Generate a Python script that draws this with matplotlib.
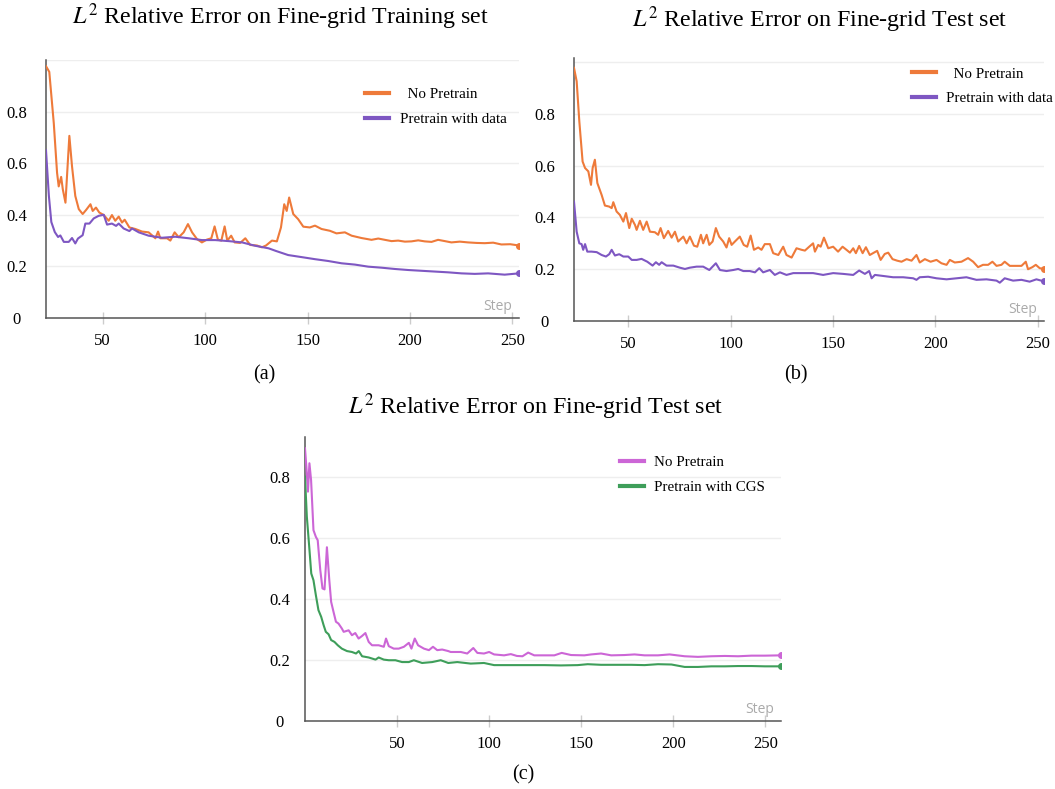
import matplotlib
matplotlib.use("Agg")
import matplotlib.pyplot as plt

plt.rcParams['font.family'] = ['Liberation Serif', 'DejaVu Serif']
plt.rcParams['mathtext.fontset'] = 'stix'

# ---------------- data ----------------

# (a) fine-grid training set
a_np_steps = [22.3, 23.9, 26.1, 27.7, 28.5, 29.7, 30.5, 31.8, 33.7, 35.0, 36.6, 38.3, 40.2, 41.9,
              44.0, 45.1, 46.7, 48.3, 50.5, 52.9, 54.5, 56.1, 57.8, 59.4, 60.7, 63.0, 65.9, 69.2,
              72.4, 75.7, 77.0, 78.1, 81.4, 83.0, 85.1, 87.1, 89.5, 91.6, 93.6, 96.0, 98.4, 100.9,
              103.0, 104.6, 106.2, 107.9, 109.5, 110.8, 112.7, 114.4, 117.1, 119.6, 122.0, 125.3,
              127.7, 129.7, 132.6, 135.0, 137.0, 138.6, 139.8, 141.0, 143.0, 145.4, 147.9, 151.1,
              153.6, 156.8, 160.9, 164.1, 168.2, 171.5, 176.3, 181.2, 184.5, 187.7, 191.0, 194.2,
              197.5, 200.7, 204.0, 207.2, 210.5, 213.7, 217.0, 220.2, 224.3, 228.3, 232.4, 236.5,
              240.6, 244.6, 248.9, 253.2]
a_np_vals = [0.976, 0.954, 0.755, 0.563, 0.51, 0.547, 0.499, 0.447, 0.706, 0.588, 0.473, 0.422, 0.403,
             0.419, 0.441, 0.415, 0.428, 0.409, 0.399, 0.377, 0.399, 0.377, 0.393, 0.370, 0.381, 0.351,
             0.345, 0.335, 0.332, 0.309, 0.335, 0.309, 0.309, 0.300, 0.332, 0.313, 0.332, 0.364, 0.332,
             0.306, 0.293, 0.304, 0.309, 0.355, 0.304, 0.300, 0.355, 0.300, 0.319, 0.293, 0.291, 0.309,
             0.283, 0.281, 0.274, 0.281, 0.300, 0.297, 0.351, 0.441, 0.415, 0.467, 0.403, 0.383, 0.354,
             0.351, 0.358, 0.345, 0.338, 0.328, 0.332, 0.319, 0.310, 0.303, 0.308, 0.303, 0.298, 0.300,
             0.296, 0.297, 0.301, 0.297, 0.295, 0.303, 0.298, 0.293, 0.296, 0.293, 0.291, 0.290, 0.292,
             0.285, 0.286, 0.281]

a_pd_steps = [22.3, 23.7, 24.9, 26.6, 28.2, 29.3, 31.0, 33.4, 35.0, 36.6, 37.9, 40.2, 41.5, 43.5,
              45.6, 48.0, 50.5, 52.1, 54.5, 56.5, 57.8, 60.2, 63.0, 64.3, 67.6, 72.4, 78.9, 85.4,
              92.0, 98.4, 104.9, 111.5, 118.0, 124.4, 131.0, 134.5, 140.5, 147.1, 153.6, 160.0,
              166.6, 173.1, 179.6, 186.1, 192.6, 199.1, 205.6, 212.1, 218.6, 225.1, 231.6, 238.1,
              246.2, 253.2]
a_pd_vals = [0.65, 0.474, 0.372, 0.333, 0.314, 0.32, 0.295, 0.295, 0.31, 0.289, 0.308, 0.321, 0.366,
             0.366, 0.386, 0.396, 0.40, 0.362, 0.366, 0.357, 0.366, 0.347, 0.337, 0.347, 0.332, 0.319,
             0.311, 0.315, 0.309, 0.302, 0.302, 0.298, 0.293, 0.280, 0.270, 0.26, 0.244, 0.236, 0.228,
             0.221, 0.212, 0.207, 0.199, 0.195, 0.190, 0.186, 0.183, 0.180, 0.177, 0.173, 0.171, 0.173,
             0.168, 0.173]

# (b) fine-grid test set
b_np_steps = [23.5, 24.8, 26.1, 27.7, 28.9, 30.5, 31.8, 32.6, 33.7, 34.9, 37.0, 38.6, 40.7, 41.9,
              42.7, 44.3, 45.9, 47.6, 48.9, 50.5, 51.7, 53.3, 54.1, 55.7, 57.3, 59.0, 60.6, 63.0,
              64.6, 65.8, 67.4, 69.5, 71.2, 72.8, 74.4, 76.9, 78.5, 80.1, 82.1, 83.7, 85.5, 86.6,
              88.3, 89.6, 91.2, 92.8, 94.4, 96.4, 98.0, 99.3, 100.5, 102.1, 104.5, 106.4, 108.1,
              109.8, 111.4, 113.5, 115.1, 116.7, 119.2, 120.8, 123.3, 125.7, 127.3, 129.8, 132.2,
              134.7, 136.3, 138.4, 140.3, 141.2, 142.8, 144.0, 145.6, 147.7, 150.1, 152.5, 154.7,
              156.6, 158.3, 159.9, 161.2, 162.8, 164.5, 166.1, 168.0, 170.0, 171.6, 173.3, 175.3,
              177.0, 179.1, 181.4, 183.5, 186.0, 188.4, 190.8, 192.4, 194.9, 197.7, 200.6, 203.0,
              205.5, 207.1, 209.5, 212.8, 216.0, 218.5, 220.9, 223.3, 225.8, 227.9, 229.9, 232.3,
              233.9, 236.4, 239.6, 242.1, 244.2, 245.3, 247.4, 249.1, 251.0, 253.1]
b_np_vals = [0.978, 0.926, 0.771, 0.616, 0.591, 0.578, 0.526, 0.591, 0.623, 0.533, 0.487, 0.446, 0.442,
             0.436, 0.459, 0.423, 0.41, 0.384, 0.417, 0.359, 0.395, 0.371, 0.352, 0.387, 0.352, 0.384,
             0.345, 0.343, 0.333, 0.359, 0.320, 0.348, 0.322, 0.345, 0.307, 0.326, 0.300, 0.326, 0.291,
             0.287, 0.333, 0.300, 0.333, 0.294, 0.307, 0.359, 0.326, 0.307, 0.284, 0.320, 0.294, 0.307,
             0.326, 0.294, 0.287, 0.330, 0.275, 0.284, 0.275, 0.297, 0.297, 0.262, 0.255, 0.287, 0.255,
             0.245, 0.281, 0.275, 0.272, 0.287, 0.300, 0.268, 0.294, 0.287, 0.322, 0.281, 0.287, 0.268,
             0.287, 0.275, 0.264, 0.281, 0.262, 0.290, 0.262, 0.285, 0.255, 0.264, 0.271, 0.236, 0.259,
             0.264, 0.239, 0.233, 0.229, 0.239, 0.233, 0.255, 0.226, 0.239, 0.229, 0.236, 0.223, 0.217,
             0.236, 0.226, 0.229, 0.243, 0.229, 0.208, 0.217, 0.217, 0.229, 0.213, 0.217, 0.229, 0.213,
             0.213, 0.213, 0.229, 0.200, 0.208, 0.217, 0.204, 0.201]

b_pd_steps = [23.5, 24.8, 26.1, 27.2, 28.0, 28.9, 30.0, 32.1, 34.6, 37.0, 39.1, 40.7, 41.9, 43.5,
              45.6, 47.6, 50.0, 51.7, 54.1, 56.5, 59.3, 61.9, 63.5, 65.1, 66.3, 68.7, 72.0, 75.2,
              77.7, 80.1, 83.4, 86.6, 89.6, 92.8, 94.8, 98.0, 101.3, 103.7, 106.2, 109.4, 111.9,
              114.0, 115.9, 119.2, 121.6, 124.1, 127.3, 130.6, 133.8, 140.3, 145.2, 150.1, 155.0,
              159.9, 162.8, 165.6, 167.7, 168.9, 170.5, 174.5, 179.4, 184.3, 189.2, 190.8, 192.4,
              196.5, 200.6, 205.5, 210.4, 215.2, 220.1, 225.0, 229.9, 231.5, 233.9, 238.0, 242.1,
              246.1, 249.4, 253.1]
b_pd_vals = [0.461, 0.345, 0.300, 0.297, 0.275, 0.297, 0.268, 0.268, 0.266, 0.255, 0.249, 0.258, 0.275,
             0.253, 0.258, 0.249, 0.249, 0.236, 0.236, 0.240, 0.229, 0.214, 0.227, 0.217, 0.227, 0.214,
             0.214, 0.206, 0.201, 0.206, 0.210, 0.210, 0.197, 0.223, 0.197, 0.193, 0.197, 0.201, 0.193,
             0.193, 0.188, 0.204, 0.188, 0.197, 0.178, 0.188, 0.178, 0.185, 0.185, 0.185, 0.178, 0.185,
             0.182, 0.178, 0.195, 0.182, 0.193, 0.165, 0.178, 0.174, 0.169, 0.169, 0.165, 0.159, 0.169,
             0.171, 0.165, 0.161, 0.165, 0.169, 0.159, 0.161, 0.156, 0.148, 0.165, 0.156, 0.159, 0.152,
             0.161, 0.153]

# (c) fine-grid test set, coarse-grid-solution pretraining
c_np_steps = [0.0, 1.0, 1.6, 2.4, 3.3, 4.6, 5.9, 6.9, 8.3, 9.5, 10.6, 11.9, 13.2, 14.2, 15.5, 16.8,
              18.2, 20.0, 21.0, 23.7, 25.5, 27.3, 29.1, 30.9, 32.8, 34.6, 36.4, 40.0, 42.8, 44.0,
              45.5, 48.2, 50.9, 53.7, 56.4, 57.8, 59.6, 61.4, 64.6, 67.3, 69.5, 71.8, 74.5, 77.8,
              79.1, 84.6, 88.1, 91.4, 93.6, 97.2, 100.0, 102.7, 108.1, 111.8, 115.1, 118.1, 121.2,
              124.5, 130.0, 135.4, 139.4, 144.5, 151.7, 155.4, 160.8, 166.3, 173.5, 179.0, 184.4,
              191.7, 198.0, 206.2, 213.4, 220.7, 228.0, 235.2, 242.5, 249.8, 258.5]
c_np_vals = [0.893, 0.811, 0.751, 0.844, 0.789, 0.625, 0.603, 0.592, 0.494, 0.434, 0.431, 0.569, 0.461,
             0.390, 0.357, 0.325, 0.319, 0.303, 0.292, 0.297, 0.281, 0.288, 0.270, 0.278, 0.288, 0.259,
             0.248, 0.248, 0.243, 0.270, 0.245, 0.237, 0.237, 0.243, 0.256, 0.237, 0.270, 0.248, 0.237,
             0.232, 0.243, 0.232, 0.234, 0.229, 0.226, 0.226, 0.221, 0.239, 0.223, 0.221, 0.226, 0.218,
             0.215, 0.219, 0.213, 0.212, 0.224, 0.215, 0.215, 0.215, 0.223, 0.216, 0.215, 0.218, 0.221,
             0.215, 0.216, 0.218, 0.215, 0.215, 0.218, 0.212, 0.210, 0.212, 0.213, 0.212, 0.214, 0.214,
             0.215]

c_cgs_steps = [0.0, 1.0, 2.3, 3.4, 4.6, 5.9, 7.3, 8.8, 10.1, 11.3, 12.8, 14.2, 16.0, 17.8, 20.0,
               22.8, 25.5, 27.7, 29.2, 31.0, 34.6, 38.3, 40.0, 42.8, 45.5, 49.1, 52.7, 56.4, 59.1,
               63.6, 69.1, 73.7, 77.8, 82.7, 90.0, 97.2, 102.7, 111.8, 120.8, 130.0, 139.0, 148.1,
               153.5, 160.8, 169.9, 177.2, 184.4, 191.7, 199.0, 206.2, 213.4, 220.7, 228.0, 235.2,
               242.5, 249.8, 258.5]
c_cgs_vals = [0.800, 0.669, 0.570, 0.483, 0.461, 0.412, 0.363, 0.341, 0.314, 0.292, 0.284, 0.265,
              0.259, 0.248, 0.237, 0.229, 0.226, 0.221, 0.229, 0.212, 0.208, 0.201, 0.208, 0.201,
              0.199, 0.199, 0.193, 0.193, 0.199, 0.190, 0.193, 0.199, 0.190, 0.193, 0.188, 0.190,
              0.183, 0.183, 0.183, 0.183, 0.182, 0.183, 0.186, 0.184, 0.184, 0.184, 0.183, 0.186,
              0.185, 0.177, 0.177, 0.179, 0.179, 0.180, 0.180, 0.179, 0.179]

y_ticks = [0, 0.2, 0.4, 0.6, 0.8]
y_ticklabels = ['0', '0.2', '0.4', '0.6', '0.8']
grid_vals = [0.2, 0.4, 0.6, 0.8, 1.0]
x_ticks = [50, 100, 150, 200, 250]

orange = '#EE7A3A'
purple = '#7E57C2'
pink = '#CC66D6'
green = '#3E9E5A'

W, H = 1055, 789
fig = plt.figure(figsize=(W / 100, H / 100), dpi=100)


def px_axes(left, top, right, bottom):
    # axes placed by pixel edges of the reference
    return fig.add_axes([left / W, 1 - bottom / H, (right - left) / W, (bottom - top) / H])


def setup(ax, xlim, ylim, ypad):
    ax.set_xlim(xlim)
    ax.set_ylim(ylim)
    for s in ['top', 'right']:
        ax.spines[s].set_visible(False)
    for s in ['left', 'bottom']:
        ax.spines[s].set_color('#555555')
        ax.spines[s].set_linewidth(1.1)
    for v in grid_vals:
        if v <= ylim[1] + 0.001:
            ax.axhline(v, color='#eeeeee', lw=1, zorder=0)
    ax.set_yticks(y_ticks)
    ax.set_yticklabels(y_ticklabels)
    ax.set_xticks(x_ticks)
    ax.tick_params(axis='y', length=0, pad=ypad, labelsize=12)
    ax.tick_params(axis='x', direction='inout', length=9, color='#cccccc', width=1,
                   pad=6, labelsize=12)
    for lbl in ax.get_yticklabels():
        lbl.set_horizontalalignment('center')
    ax.text(0.985, 0.015, 'Step', transform=ax.transAxes, ha='right', va='bottom',
            color='#aaaaaa', fontsize=10, family=['Open Sans', 'DejaVu Sans'])


def draw(ax, x, y, color, label):
    ax.plot(x, y, color=color, lw=1.5, label=label, zorder=3)
    ax.plot(x[-1], y[-1], 'o', color=color, ms=4, zorder=4)


def legend(ax, left, top):
    leg = ax.legend(loc='upper left', bbox_to_anchor=(left / W, 1 - top / H),
                    bbox_transform=fig.transFigure, frameon=False, fontsize=10.8,
                    handlelength=1.6, handletextpad=0.7, labelspacing=0.75,
                    borderpad=0, borderaxespad=0)
    for h in leg.get_lines():
        h.set_linewidth(3)


# ---- (a)
ax1 = px_axes(46, 60, 519, 318)
setup(ax1, (22.3, 253.2), (0, 1.0), 21)
draw(ax1, a_np_steps, a_np_vals, orange, '  No Pretrain')
draw(ax1, a_pd_steps, a_pd_vals, purple, 'Pretrain with data')
legend(ax1, 365, 88)
fig.text(280, H - 17, r'$L^2$ Relative Error on Fine-grid Training set', fontsize=17.3,
         ha='center', va='center', transform=None)
fig.text(264, H - 375, '(a)', fontsize=14.5, ha='center', va='center', transform=None)

# ---- (b)
ax2 = px_axes(574, 58, 1044, 321)
setup(ax2, (23.5, 253.1), (0, 1.016), 21)
draw(ax2, b_np_steps, b_np_vals, orange, '  No Pretrain')
draw(ax2, b_pd_steps, b_pd_vals, purple, 'Pretrain with data')
legend(ax2, 912, 67)
fig.text(820, H - 20, r'$L^2$ Relative Error on Fine-grid Test set', fontsize=17.3,
         ha='center', va='center', transform=None)
fig.text(796, H - 375, '(b)', fontsize=14.5, ha='center', va='center', transform=None)

# ---- (c)
ax3 = px_axes(305, 437, 781, 721)
setup(ax3, (0, 258.5), (0, 0.93), 18)
draw(ax3, c_np_steps, c_np_vals, pink, 'No Pretrain')
draw(ax3, c_cgs_steps, c_cgs_vals, green, 'Pretrain with CGS')
legend(ax3, 620, 456)
fig.text(536, H - 407, r'$L^2$ Relative Error on Fine-grid Test set', fontsize=17.3,
         ha='center', va='center', transform=None)
fig.text(523, H - 775, '(c)', fontsize=14.5, ha='center', va='center', transform=None)

fig.savefig('out.png', dpi=100)
